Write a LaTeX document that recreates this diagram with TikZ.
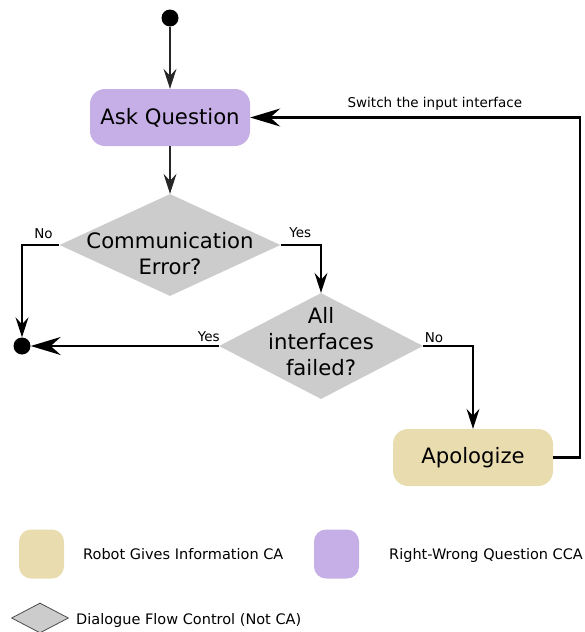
\documentclass[tikz,border=0pt]{standalone}
\usepackage{fontspec}
\setmainfont{DejaVu Sans}
\usetikzlibrary{shapes.geometric,arrows.meta}
\definecolor{askfill}{HTML}{C6AEE6}
\definecolor{infofill}{HTML}{E9DDAF}
\definecolor{decfill}{HTML}{CCCCCC}
\tikzset{
  dot/.style={circle, fill=black, inner sep=0pt, minimum size=17pt},
  actbox/.style={rounded corners=15pt, minimum width=160pt, minimum height=57pt,
    inner sep=0pt, font=\fontsize{21.2}{26}\selectfont},
  decision/.style={diamond, fill=decfill, minimum width=221pt, minimum height=102pt, inner sep=0pt},
  dtext/.style={align=center, inner sep=0pt, font=\fontsize{21.2}{26}\selectfont},
  lbl/.style={inner sep=0pt, font=\fontsize{13.5}{15}\selectfont},
  legtext/.style={inner sep=0pt, anchor=base west, font=\fontsize{14.5}{17}\selectfont},
  keybox/.style={rounded corners=12pt, minimum width=45pt, minimum height=49pt, inner sep=0pt},
  flow/.style={draw=black!85, line width=1.2pt, -{Stealth[length=20pt,width=13pt,inset=7pt]}},
  heavy/.style={draw=black, line width=2.2pt, -{Stealth[length=30pt,width=18pt,inset=10pt]}},
}
\begin{document}
\begin{tikzpicture}[x=1pt,y=-1pt]
\useasboundingbox (0,0) rectangle (585,632);

% activities and decisions
\node[dot] (start) at (170,18) {};
\node[actbox, fill=askfill] (ask) at (170,117.5) {Ask Question};
\node[decision] (comm) at (170,245) {};
\node[dtext] (commtext) at (170,254) {Communication\\Error?};
\node[decision, minimum width=204pt, minimum height=106pt] (fail) at (321,346) {};
\node[dtext] (failtext) at (321,342) {All\\interfaces\\failed?};
\node[actbox, fill=infofill] (apol) at (473,457.5) {Apologize};
\node[dot] (end) at (22,346) {};
\coordinate (loopx) at (580,0);

% flow
\draw[flow] (start) -- (ask);
\draw[flow] (ask) -- (comm);
\draw[flow, draw=black] (comm.west) node[lbl, anchor=base east, xshift=-6pt, yshift=7pt] (lno1) {No} -| (end);
\draw[flow, draw=black] (comm.east) node[lbl, anchor=base west, xshift=8pt, yshift=8pt] (lyes1) {Yes} -| (fail);
\draw[flow, draw=black] (fail.east) node[lbl, anchor=base west, xshift=1pt, yshift=4pt] (lno2) {No} -| (apol);
\draw[heavy] (fail.west) node[lbl, anchor=base east, xshift=2pt, yshift=5pt] (lyes2) {Yes} -- (end);
\draw[heavy] (apol.east) -- (apol.east -| loopx) |- node[lbl, pos=0.72, anchor=base, yshift=10pt] (lswitch) {Switch the input interface} (ask.east);

% legend
\node[keybox, fill=infofill] (keyinfo) at (41.5,554) {};
\node[legtext] (keyinfotext) at (83,559.5) {Robot Gives Information CA};
\node[keybox, fill=askfill] (keyask) at (336.5,554) {};
\node[legtext] (keyasktext) at (389,559) {Right-Wrong Question CCA};
\node[diamond, fill=decfill, draw=black!70, line width=0.8pt, minimum width=57pt,
      minimum height=30pt, inner sep=0pt] (keydec) at (40,618) {};
\node[legtext] (keydectext) at (76,624) {Dialogue Flow Control (Not CA)};
\end{tikzpicture}
\end{document}
